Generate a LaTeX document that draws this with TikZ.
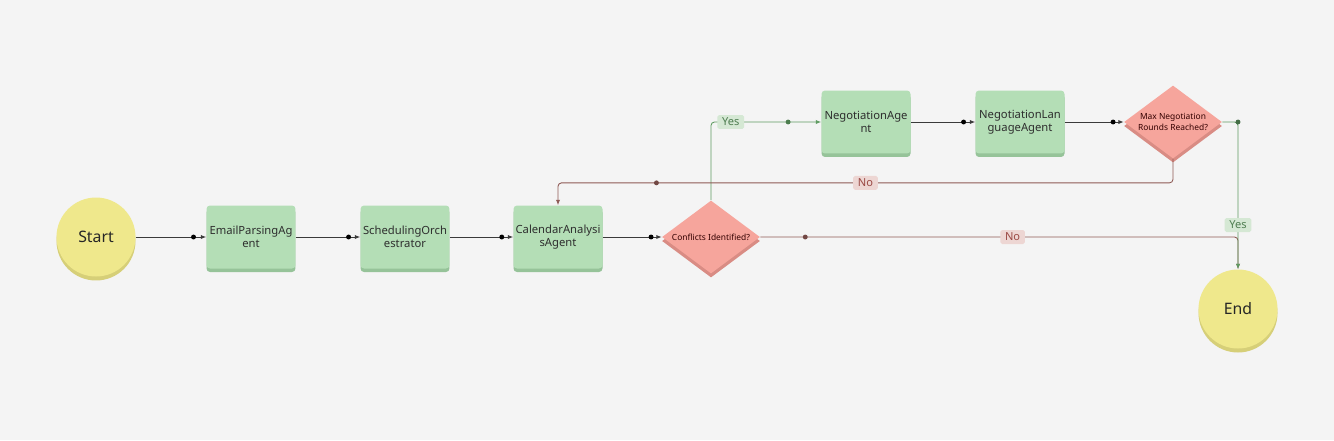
\documentclass[tikz,border=0pt]{standalone}
\usepackage{fontspec}
\setmainfont{Noto Sans}
\usetikzlibrary{shapes.geometric,shadows,arrows.meta}
\definecolor{paper}{HTML}{F4F4F4}
\definecolor{agentfill}{HTML}{B4DEB6}
\definecolor{agentshade}{HTML}{96C399}
\definecolor{termfill}{HTML}{EFE88C}
\definecolor{termshade}{HTML}{D6CF78}
\definecolor{checkfill}{HTML}{F6A59C}
\definecolor{checkshade}{HTML}{D98C84}
\definecolor{flowline}{HTML}{3A3A3A}
\definecolor{yesline}{HTML}{5F9C62}
\definecolor{noline}{HTML}{8E5A55}
\definecolor{yesbg}{HTML}{D5E8D4}
\definecolor{yestext}{HTML}{4E7D50}
\definecolor{nobg}{HTML}{EDD6D3}
\definecolor{notext}{HTML}{9B4A45}
\tikzset{
  agent/.style={rectangle, rounded corners=2pt, fill=agentfill, minimum width=1.78cm, minimum height=1.26cm,
    inner xsep=0.5pt, align=center, text=black!82, font=\fontsize{6.4}{7.6}\selectfont,
    general shadow={fill=agentshade, shadow yshift=-0.07cm}},
  terminal/.style={circle, fill=termfill, minimum size=1.58cm, inner sep=0pt, text=black!85,
    font=\fontsize{9}{10}\selectfont, general shadow={fill=termshade, shadow yshift=-0.08cm}},
  check/.style={diamond, aspect=1.3, fill=checkfill, minimum width=1.96cm, minimum height=1.46cm, inner sep=0pt,
    align=center, text=black!80!red, font=\fontsize{4.8}{5.8}\selectfont,
    general shadow={fill=checkshade, shadow yshift=-0.08cm}},
  flow/.style={draw=flowline, line width=0.5pt, -{Latex[length=3pt,width=2.4pt]}},
  yesflow/.style={flow, draw=yesline, rounded corners=2pt},
  noflow/.style={flow, draw=noline, rounded corners=2pt},
  hub/.style={circle, fill=#1, inner sep=0pt, minimum size=2.8pt},
  yeslab/.style={fill=yesbg, text=yestext, rounded corners=1pt, inner xsep=2.7pt, inner ysep=1.7pt,
    font=\fontsize{6.3}{7}\selectfont},
  nolab/.style={fill=nobg, text=notext, rounded corners=1pt, inner xsep=2.7pt, inner ysep=1.7pt,
    font=\fontsize{6.3}{7}\selectfont}
}
\begin{document}
\begin{tikzpicture}[x=0.02cm,y=-0.02cm]
\useasboundingbox[fill=paper] (0,0) rectangle (1334,440);
\node[terminal] (start) at (96,237) {Start};
\node[agent] (email) at (251,237) {EmailParsingAg\\ent};
\node[agent] (sched) at (405,237) {SchedulingOrch\\estrator};
\node[agent] (cal) at (558,237) {CalendarAnalysi\\sAgent};
\node[check] (conf) at (711,237) {Conflicts Identified?};
\node[agent] (nego) at (866,122) {NegotiationAge\\nt};
\node[agent] (lang) at (1020,122) {NegotiationLan\\guageAgent};
\node[check] (maxr) at (1173,122) {Max Negotiation\\Rounds Reached?};
\node[terminal] (end) at (1238,309) {End};
\foreach \a/\b in {start/email,email/sched,sched/cal,cal/conf,nego/lang,lang/maxr}
  \draw[flow] (\a) -- (\b) node[hub=black,pos=0.82]{};
\coordinate (yesbend) at (conf.north |- nego.west);
\draw[yesflow] (conf.north) -- (yesbend) -- (nego.west)
  node[yeslab,pos=0.18]{Yes} node[hub=yesline!80!black,pos=0.7]{};
\draw[noflow] (conf.east) -| (end.north)
  node[hub=noline!80!black,pos=0.047]{} node[nolab,pos=0.264]{No};
\draw[yesflow] (maxr.east) -| (end.north)
  node[hub=yesline!70!black,pos=0.5]{} node[yeslab,pos=0.85]{Yes};
\draw[noflow] (maxr.south) -- ++(0,24) -| (cal.north)
  node[nolab,pos=0.25]{No} node[hub=noline!80!black,pos=0.42]{};
\end{tikzpicture}
\end{document}
